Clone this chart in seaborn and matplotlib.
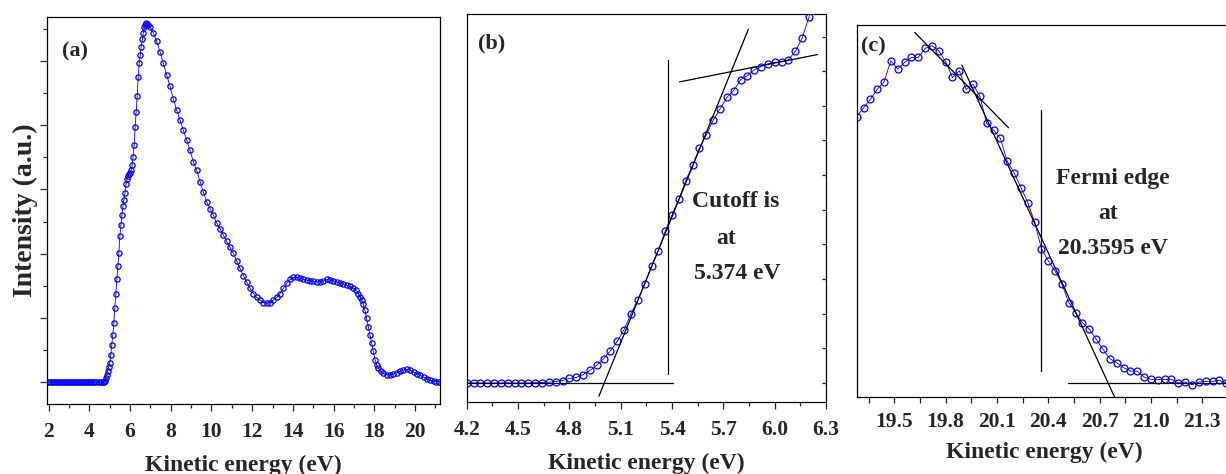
import matplotlib
matplotlib.use("Agg")
import matplotlib.pyplot as plt
import seaborn as sns
from matplotlib.ticker import FixedLocator, NullFormatter, FixedFormatter

# ---------------- Panel (a): full spectrum ----------------
a_energy = [1.95, 2.05, 2.15, 2.25, 2.35, 2.45, 2.55, 2.65, 2.75, 2.85, 2.95, 3.05, 3.15, 3.25,
            3.35, 3.45, 3.55, 3.65, 3.75, 3.85, 3.95, 4.05, 4.15, 4.25, 4.35, 4.45, 4.55, 4.65,
            4.70, 4.75, 4.80, 4.85, 4.90, 4.95, 5.00, 5.05, 5.10, 5.15, 5.20, 5.25, 5.30, 5.35,
            5.40, 5.45, 5.50, 5.55, 5.60, 5.65, 5.70, 5.75, 5.80, 5.85, 5.90, 5.95, 6.00, 6.05,
            6.10, 6.15, 6.20, 6.25, 6.30, 6.35, 6.40, 6.45, 6.50, 6.55, 6.60, 6.65, 6.70, 6.75,
            6.80, 6.85, 6.90, 7.00, 7.14, 7.31, 7.47, 7.63, 7.80, 7.96, 8.12, 8.29, 8.45, 8.62,
            8.78, 8.94, 9.11, 9.27, 9.44, 9.60, 9.76, 9.93, 10.09, 10.25, 10.42, 10.58, 10.75,
            10.91, 11.07, 11.24, 11.40, 11.57, 11.73, 11.90, 12.06, 12.22, 12.39, 12.55, 12.72,
            12.88, 13.04, 13.20, 13.37, 13.53, 13.70, 13.86, 14.02, 14.19, 14.35, 14.51, 14.68,
            14.84, 15.00, 15.17, 15.33, 15.49, 15.66, 15.82, 15.99, 16.15, 16.32, 16.48, 16.64,
            16.81, 16.97, 17.10, 17.22, 17.30, 17.38, 17.46, 17.54, 17.62, 17.71, 17.79, 17.87,
            17.95, 18.04, 18.12, 18.20, 18.32, 18.45, 18.61, 18.77, 18.93, 19.10, 19.26, 19.43,
            19.59, 19.75, 19.93, 20.10, 20.26, 20.43, 20.59, 20.75, 20.92, 21.05, 21.19]
a_intensity = [0.00, 0.00, 0.00, 0.00, 0.00, 0.00, 0.00, 0.00, 0.00, 0.00, 0.00, 0.00, 0.00, 0.00,
               0.00, 0.00, 0.00, 0.00, 0.00, 0.00, 0.00, 0.00, 0.00, 0.00, 0.00, 0.00, 0.00, 0.00,
               0.00, 0.02, 0.06, 0.12, 0.18, 0.24, 0.30, 0.42, 0.58, 0.74, 0.92, 1.15, 1.37, 1.60,
               1.81, 2.01, 2.28, 2.45, 2.60, 2.74, 2.84, 2.95, 3.08, 3.16, 3.20, 3.24, 3.26, 3.30,
               3.38, 3.51, 3.69, 3.97, 4.21, 4.45, 4.75, 4.96, 5.09, 5.22, 5.33, 5.43, 5.52, 5.56,
               5.58, 5.57, 5.55, 5.52, 5.43, 5.30, 5.14, 4.96, 4.78, 4.60, 4.41, 4.23, 4.08, 3.92,
               3.77, 3.61, 3.43, 3.30, 3.12, 2.96, 2.81, 2.70, 2.60, 2.48, 2.39, 2.29, 2.19,
               2.10, 2.01, 1.89, 1.77, 1.66, 1.56, 1.46, 1.38, 1.32, 1.28, 1.24, 1.23,
               1.24, 1.28, 1.32, 1.38, 1.46, 1.54, 1.60, 1.63, 1.63, 1.62, 1.60, 1.59,
               1.58, 1.57, 1.56, 1.56, 1.58, 1.60, 1.59, 1.58, 1.56, 1.54, 1.53, 1.51,
               1.49, 1.46, 1.43, 1.38, 1.33, 1.28, 1.21, 1.12, 1.00, 0.86, 0.73, 0.61,
               0.48, 0.35, 0.27, 0.22, 0.17, 0.14, 0.12, 0.11, 0.13, 0.15, 0.17, 0.19,
               0.20, 0.19, 0.16, 0.13, 0.11, 0.08, 0.05, 0.03, 0.02, 0.01, 0.01]
a_xticks = [2, 4, 6, 8, 10, 12, 14, 16, 18, 20]
a_xticklabels = ["2", "4", "6", "8", "10", "12", "14", "16", "18", "20"]
a_xminor = [3, 5, 7, 9, 11, 13, 15, 17, 19, 21]

# ---------------- Panel (b): secondary-electron cutoff ----------------
b_energy = [4.20, 4.24, 4.28, 4.32, 4.36, 4.40, 4.44, 4.48, 4.52, 4.56, 4.60, 4.64, 4.68, 4.72,
            4.76, 4.80, 4.84, 4.88, 4.92, 4.96, 5.00, 5.04, 5.08, 5.12, 5.16, 5.20, 5.24, 5.28,
            5.32, 5.36, 5.40, 5.44, 5.48, 5.52, 5.56, 5.60, 5.64, 5.68, 5.72, 5.76, 5.80, 5.84,
            5.88, 5.92, 5.96, 6.00, 6.04, 6.08, 6.12, 6.16, 6.20, 6.24]
b_intensity = [0.00, 0.00, 0.00, 0.00, 0.00, 0.00, 0.00, 0.00, 0.00, 0.00, 0.01, 0.01, 0.02, 0.04,
               0.07, 0.13, 0.16, 0.24, 0.36, 0.51, 0.70, 0.93, 1.20, 1.54, 2.00, 2.40, 2.87, 3.38,
               3.82, 4.38, 4.86, 5.31, 5.84, 6.29, 6.78, 7.16, 7.58, 7.91, 8.24, 8.44, 8.75, 8.87,
               9.04, 9.13, 9.21, 9.25, 9.27, 9.33, 9.57, 9.95, 10.56, 11.40]
b_base_x = [4.20, 5.405]
b_base_y = [0.0, 0.0]
b_edge_x = [4.972, 5.846]
b_edge_y = [-0.385, 10.21]
b_top_x = [5.444, 6.251]
b_top_y = [8.69, 9.48]
b_cut_x = [5.374, 5.374]
b_cut_y = [0.27, 9.31]
b_xticks = [4.2, 4.5, 4.8, 5.1, 5.4, 5.7, 6.0, 6.3]
b_xticklabels = ["4.2", "4.5", "4.8", "5.1", "5.4", "5.7", "6.0", "6.3"]
b_xminor = [4.35, 4.65, 4.95, 5.25, 5.55, 5.85, 6.15]
b_yticks = [0, 1, 2, 3, 4, 5, 6, 7, 8, 9, 10]

# ---------------- Panel (c): Fermi edge ----------------
c_energy = [19.28, 19.32, 19.36, 19.40, 19.44, 19.48, 19.52, 19.56, 19.60, 19.64, 19.68, 19.72,
            19.76, 19.80, 19.84, 19.88, 19.92, 19.96, 20.00, 20.04, 20.08, 20.12, 20.16, 20.20,
            20.24, 20.28, 20.32, 20.36, 20.40, 20.44, 20.48, 20.52, 20.56, 20.60, 20.64, 20.68,
            20.72, 20.76, 20.80, 20.84, 20.88, 20.92, 20.96, 21.00, 21.04, 21.08, 21.12, 21.16,
            21.20, 21.24, 21.28, 21.32, 21.36, 21.40, 21.44]
c_intensity = [7.95, 8.22, 8.47, 8.77, 9.00, 9.63, 9.38, 9.58, 9.73, 9.73, 10.00, 10.08,
               9.93, 9.60, 9.13, 9.33, 8.77, 8.92, 8.57, 7.75, 7.55, 7.30, 6.62, 6.27,
               5.83, 5.38, 4.80, 4.00, 3.63, 3.33, 2.93, 2.38, 2.08, 1.78, 1.58, 1.28,
               0.98, 0.70, 0.58, 0.43, 0.33, 0.32, 0.15, 0.08, 0.07, 0.08, 0.08, -0.03,
               0.00, -0.08, 0.00, 0.02, 0.02, 0.05, -0.03]
c_tan1_x = [19.619, 20.168]
c_tan1_y = [10.48, 7.62]
c_tan2_x = [19.895, 20.792]
c_tan2_y = [9.50, -0.50]
c_fermi_x = [20.3595, 20.3595]
c_fermi_y = [0.33, 8.15]
c_base_x = [20.513, 21.6]
c_base_y = [-0.02, -0.02]
c_xticks = [19.5, 19.8, 20.1, 20.4, 20.7, 21.0, 21.3]
c_xticklabels = ["19.5", "19.8", "20.1", "20.4", "20.7", "21.0", "21.3"]
c_xminor = [19.35, 19.65, 19.95, 20.25, 20.55, 20.85, 21.15, 21.45]

# ---------------- Style ----------------
sns.set_style("ticks")
plt.rcParams["font.family"] = ["Liberation Serif", "DejaVu Serif"]
plt.rcParams["font.weight"] = "bold"
plt.rcParams["axes.linewidth"] = 0.9

BLUE = "#0000FF"
TICK_FS = 15.5
LAB_FS = 17
ANN_FS = 17

fig = plt.figure(figsize=(12.26, 4.74), dpi=100)
axA = fig.add_axes([0.0383, 0.1477, 0.3206, 0.8165])
axB = fig.add_axes([0.3807, 0.1519, 0.2931, 0.8186])
axC = fig.add_axes([0.6993, 0.1624, 0.3056, 0.7848])


def data_line(ax, x, y, ms):
    sns.lineplot(x=x, y=y, ax=ax, color=BLUE, linewidth=0.6, marker="o",
                 markersize=ms, markerfacecolor="none", markeredgecolor=BLUE,
                 markeredgewidth=0.9, sort=False, estimator=None)


def style_x(ax, ticks, labels, minor, major_len=5, minor_len=3, pad=8, labelpad=9):
    ax.xaxis.set_major_locator(FixedLocator(ticks))
    ax.xaxis.set_major_formatter(FixedFormatter(labels))
    ax.xaxis.set_minor_locator(FixedLocator(minor))
    ax.tick_params(axis="x", which="major", direction="out", length=major_len, width=0.9,
                   labelsize=TICK_FS, pad=pad, top=False, bottom=True)
    ax.tick_params(axis="x", which="minor", direction="out", length=minor_len, width=0.9,
                   top=False, bottom=True)
    for t in ax.get_xticklabels():
        t.set_fontweight("bold")
    ax.set_xlabel("Kinetic energy (eV)", fontsize=LAB_FS, fontweight="bold", labelpad=labelpad)


for ax in (axA, axB, axC):
    for s in ax.spines.values():
        s.set_visible(True)
        s.set_color("black")
        s.set_linewidth(0.9)

# Panel (a)
data_line(axA, a_energy, a_intensity, 3.8)
axA.set_xlim(1.916, 21.23)
axA.set_ylim(-0.337, 5.68)
style_x(axA, a_xticks, a_xticklabels, a_xminor)
axA.yaxis.set_major_locator(FixedLocator([0, 1, 2, 3, 4, 5]))
axA.yaxis.set_minor_locator(FixedLocator([0.5, 1.5, 2.5, 3.5, 4.5, 5.5]))
axA.yaxis.set_major_formatter(NullFormatter())
axA.tick_params(axis="y", which="major", direction="out", length=5, width=0.9, left=True, right=False)
axA.tick_params(axis="y", which="minor", direction="out", length=3, width=0.9, left=True, right=False)
axA.set_ylabel("Intensity (a.u.)", fontsize=20, fontweight="bold", labelpad=-2)
axA.text(0.038, 0.912, "(a)", transform=axA.transAxes, fontsize=16, fontweight="bold",
         ha="left", va="center")

# Panel (b)
data_line(axB, b_energy, b_intensity, 5.0)
for lx, ly in ((b_base_x, b_base_y), (b_edge_x, b_edge_y), (b_top_x, b_top_y), (b_cut_x, b_cut_y)):
    axB.plot(lx, ly, color="black", linewidth=0.9)
axB.set_xlim(4.2, 6.3)
axB.set_ylim(-0.55, 10.65)
style_x(axB, b_xticks, b_xticklabels, b_xminor)
axB.yaxis.tick_right()
axB.yaxis.set_major_locator(FixedLocator(b_yticks))
axB.yaxis.set_major_formatter(NullFormatter())
axB.yaxis.set_minor_locator(FixedLocator([]))
axB.tick_params(axis="y", which="major", direction="in", length=3, width=0.9, left=False, right=True)
axB.set_ylabel("")
axB.text(0.031, 0.925, "(b)", transform=axB.transAxes, fontsize=16, fontweight="bold",
         ha="left", va="center")
axB.text(5.773, 5.24, "Cutoff is", fontsize=ANN_FS, fontweight="bold", ha="center", va="center")
axB.text(5.715, 4.18, "at", fontsize=ANN_FS, fontweight="bold", ha="center", va="center")
axB.text(5.78, 3.17, "5.374 eV", fontsize=ANN_FS, fontweight="bold", ha="center", va="center")

# Panel (c)
data_line(axC, c_energy, c_intensity, 5.0)
for lx, ly in ((c_tan1_x, c_tan1_y), (c_tan2_x, c_tan2_y), (c_fermi_x, c_fermi_y), (c_base_x, c_base_y)):
    axC.plot(lx, ly, color="black", linewidth=0.9)
axC.set_xlim(19.284, 21.474)
axC.set_ylim(-0.45, 10.70)
style_x(axC, c_xticks, c_xticklabels, c_xminor, major_len=4, minor_len=4, pad=7, labelpad=7)
axC.yaxis.set_major_locator(FixedLocator([]))
axC.yaxis.set_minor_locator(FixedLocator([]))
axC.set_ylabel("")
axC.text(0.01, 0.943, "(c)", transform=axC.transAxes, fontsize=16, fontweight="bold",
         ha="left", va="center")
axC.text(20.78, 6.10, "Fermi edge", fontsize=ANN_FS, fontweight="bold", ha="center", va="center")
axC.text(20.747, 5.05, "at", fontsize=ANN_FS, fontweight="bold", ha="center", va="center")
axC.text(20.776, 4.00, "20.3595 eV", fontsize=ANN_FS, fontweight="bold", ha="center", va="center")

fig.savefig("out.png", dpi=100)
